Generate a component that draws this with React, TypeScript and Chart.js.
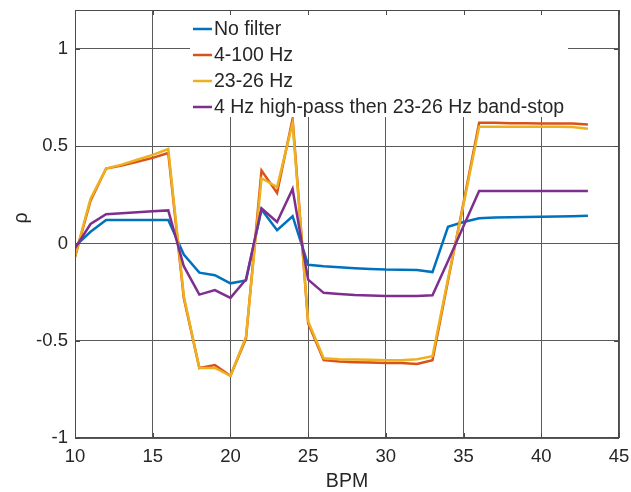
import React, { useEffect, useRef } from "react";
import { Chart, registerables } from "chart.js";

Chart.register(...registerables);

const bpm = [10, 11, 12, 13, 14, 15, 16, 17, 18, 19, 20, 21, 22, 23, 24, 25, 26, 27, 28, 29, 30, 31, 32, 33, 34, 35, 36, 37, 38, 39, 40, 41, 42, 43];

const noFilter = [-0.015, 0.06, 0.12, 0.12, 0.12, 0.12, 0.12, -0.057, -0.15, -0.163, -0.205, -0.19, 0.175, 0.068, 0.14, -0.11, -0.117, -0.122, -0.127, -0.131, -0.134, -0.135, -0.137, -0.147, 0.086, 0.11, 0.13, 0.133, 0.135, 0.136, 0.137, 0.138, 0.14, 0.143];

const band4to100 = [-0.07, 0.22, 0.385, 0.4, 0.42, 0.44, 0.465, -0.28, -0.64, -0.625, -0.68, -0.49, 0.375, 0.26, 0.64, -0.41, -0.6, -0.607, -0.61, -0.612, -0.615, -0.615, -0.62, -0.6, -0.19, 0.21, 0.62, 0.62, 0.618, 0.618, 0.617, 0.617, 0.616, 0.612];

const band23to26 = [-0.065, 0.23, 0.385, 0.405, 0.43, 0.455, 0.485, -0.27, -0.64, -0.64, -0.68, -0.48, 0.335, 0.29, 0.62, -0.4, -0.59, -0.595, -0.597, -0.598, -0.6, -0.6, -0.595, -0.58, -0.18, 0.2, 0.6, 0.6, 0.6, 0.6, 0.6, 0.6, 0.598, 0.59];

const highPassBandStop = [-0.025, 0.1, 0.15, 0.155, 0.16, 0.165, 0.17, -0.117, -0.263, -0.24, -0.28, -0.185, 0.18, 0.11, 0.28, -0.186, -0.254, -0.26, -0.265, -0.268, -0.27, -0.27, -0.27, -0.266, -0.09, 0.09, 0.27, 0.27, 0.27, 0.27, 0.27, 0.27, 0.27, 0.27];

const seriesNames = ["No filter", "4-100 Hz", "23-26 Hz", "4 Hz high-pass then 23-26 Hz band-stop"];
const seriesColors = ["#0072BD", "#D95319", "#EDB120", "#7E2F8E"];

const xTicks = [10, 15, 20, 25, 30, 35, 40, 45];
const yTicks = [-1, -0.5, 0, 0.5, 1];
const yTickLabels = ["-1", "-0.5", "0", "0.5", "1"];

const xTitle = "BPM";
const yTitle = "ρ";

const FONT = "'Liberation Sans', Arial, Helvetica, sans-serif";
const GRID = "#5a5a5a";
const BOX = "#4a4a4a";
const TEXT = "#262626";

export default function App() {
  const canvasRef = useRef<HTMLCanvasElement | null>(null);

  useEffect(() => {
    document.body.style.margin = "0";
    const canvas = canvasRef.current;
    if (!canvas) return;

    const allSeries = [noFilter, band4to100, band23to26, highPassBandStop];

    const overlay = {
      id: "overlay",
      afterDraw(chart: any) {
        const { ctx, chartArea } = chart;
        const { left, right, top, bottom } = chartArea;
        const xs = chart.scales.x;
        const ys = chart.scales.y;
        ctx.save();

        // legend (white background, no border)
        const lx = 190, ly = 11, lw = 378, lh = 106;
        ctx.fillStyle = "#ffffff";
        ctx.fillRect(lx, ly, lw, lh);
        ctx.font = `19.5px ${FONT}`;
        ctx.textBaseline = "middle";
        ctx.textAlign = "left";
        seriesNames.forEach((name, i) => {
          const yy = 29 + i * 26;
          ctx.strokeStyle = seriesColors[i];
          ctx.lineWidth = 2.5;
          ctx.beginPath();
          ctx.moveTo(193, yy);
          ctx.lineTo(212, yy);
          ctx.stroke();
          ctx.fillStyle = TEXT;
          ctx.fillText(name, 214, yy + 1);
        });

        // box
        ctx.strokeStyle = BOX;
        ctx.lineWidth = 1;
        ctx.strokeRect(Math.round(left) + 0.5, Math.round(top) + 0.5, Math.round(right - left) - 1, Math.round(bottom - top) - 1);

        // tick marks on box
        ctx.strokeStyle = BOX;
        ctx.beginPath();
        xTicks.forEach((v) => {
          const px = Math.round(xs.getPixelForValue(v)) + 0.5;
          ctx.moveTo(px, top);
          ctx.lineTo(px, top + 5);
          ctx.moveTo(px, bottom);
          ctx.lineTo(px, bottom - 5);
        });
        yTicks.forEach((v) => {
          const py = Math.round(ys.getPixelForValue(v)) + 0.5;
          ctx.moveTo(left, py);
          ctx.lineTo(left + 5, py);
          ctx.moveTo(right, py);
          ctx.lineTo(right - 5, py);
        });
        ctx.stroke();

        // axis titles
        ctx.fillStyle = TEXT;
        ctx.font = `19.5px ${FONT}`;
        ctx.textAlign = "center";
        ctx.textBaseline = "middle";
        ctx.fillText(xTitle, (left + right) / 2, 482);
        ctx.save();
        ctx.translate(22, (top + bottom) / 2 - 6);
        ctx.rotate(-Math.PI / 2);
        ctx.fillText(yTitle, 0, 0);
        ctx.restore();

        ctx.restore();
      },
    };

    const zeroPad = (scale: any) => {
      scale.paddingTop = 0;
      scale.paddingBottom = 0;
      scale.paddingLeft = 0;
      scale.paddingRight = 0;
    };

    const chart = new Chart(canvas, {
      type: "line",
      data: {
        labels: bpm,
        datasets: allSeries.map((s, i) => ({
          label: seriesNames[i],
          data: bpm.map((b, j) => ({ x: b, y: s[j] })),
          borderColor: seriesColors[i],
          backgroundColor: seriesColors[i],
          borderWidth: 2.5,
          pointRadius: 0,
          tension: 0,
          fill: false,
          order: 3 - i,
        })),
      },
      options: {
        animation: false,
        responsive: false,
        devicePixelRatio: 1,
        layout: { padding: { left: 0, top: 10, right: 12, bottom: 0 } },
        plugins: {
          legend: { display: false },
          tooltip: { enabled: false },
        },
        scales: {
          x: {
            type: "linear",
            min: 10,
            max: 45,
            afterBuildTicks: (scale: any) => {
              scale.ticks = xTicks.map((v) => ({ value: v }));
            },
            afterFit: (scale: any) => {
              scale.height = 54;
              zeroPad(scale);
            },
            ticks: {
              autoSkip: false,
              maxRotation: 0,
              padding: 8,
              color: TEXT,
              font: { family: FONT, size: 18.5 },
              callback: (v: any) => String(v),
            },
            grid: { color: GRID, lineWidth: 1, drawTicks: false },
            border: { display: false },
          },
          y: {
            type: "linear",
            min: -1,
            max: 1.2,
            afterBuildTicks: (scale: any) => {
              scale.ticks = yTicks.map((v) => ({ value: v }));
            },
            afterFit: (scale: any) => {
              scale.width = 75;
              zeroPad(scale);
            },
            ticks: {
              autoSkip: false,
              padding: 7,
              color: TEXT,
              font: { family: FONT, size: 18.5 },
              callback: (v: any) => {
                const idx = yTicks.indexOf(Number(v));
                return idx >= 0 ? yTickLabels[idx] : "";
              },
            },
            grid: { color: GRID, lineWidth: 1, drawTicks: false },
            border: { display: false },
          },
        },
      },
      plugins: [overlay],
    });

    return () => {
      chart.destroy();
    };
  }, []);

  return (
    <div style={{ width: 631, height: 492, position: "relative", background: "#fff" }}>
      <canvas ref={canvasRef} width={631} height={492} style={{ display: "block" }} />
    </div>
  );
}
